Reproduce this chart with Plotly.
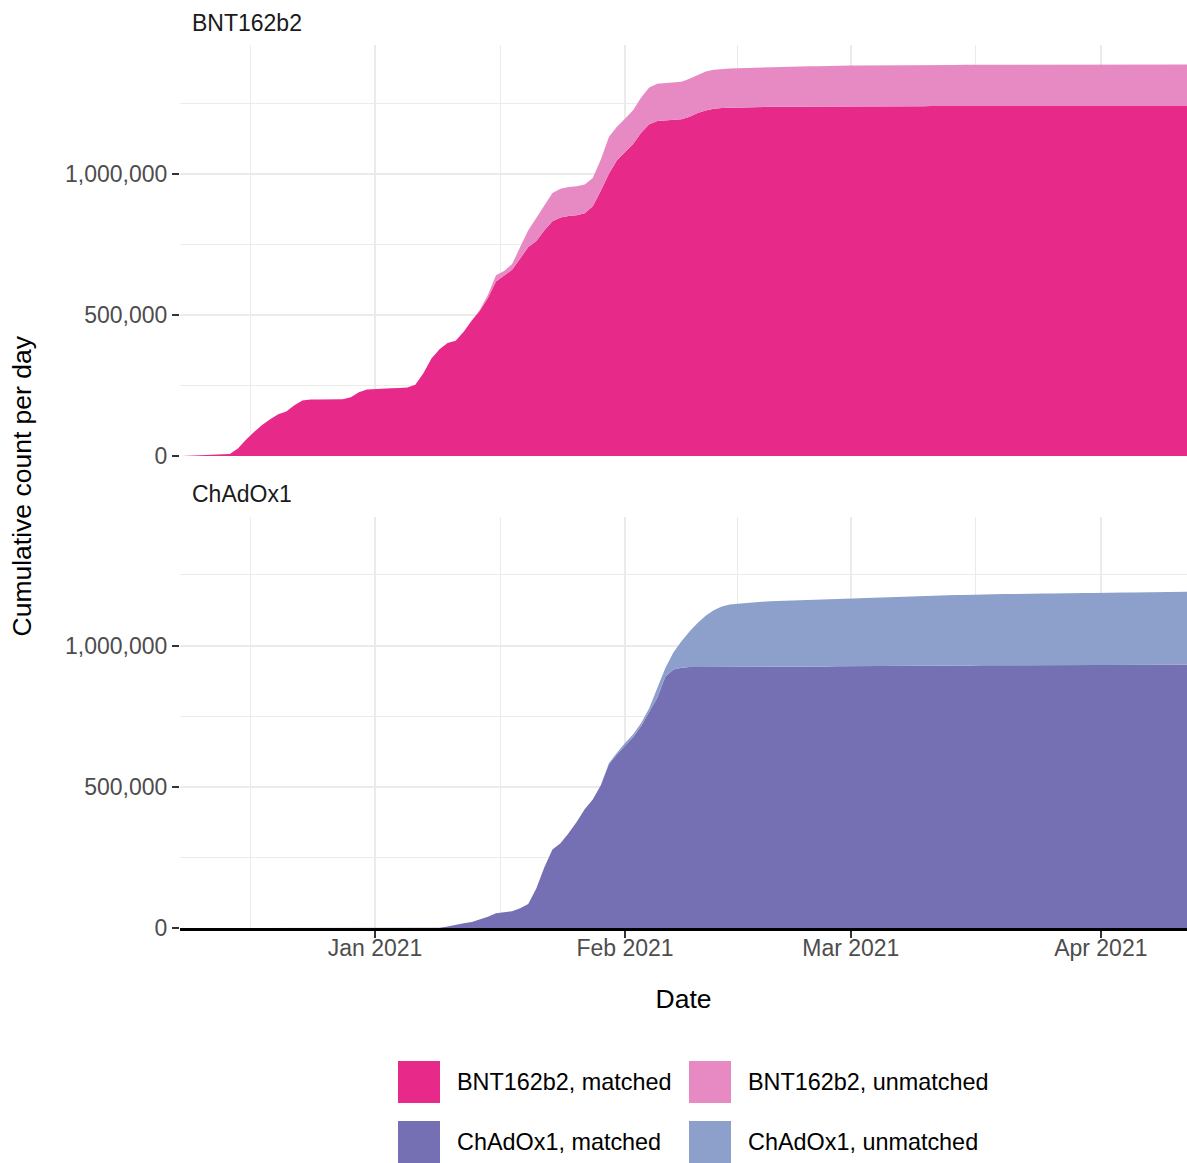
import pandas as pd
import plotly.graph_objects as go

# ---------------------------------------------------------------------------
# Daily cumulative counts (thousands of people), one value per day from
# 8 Dec 2020 to 12 Apr 2021; each row below is one week.
# ---------------------------------------------------------------------------
start_date = "2020-12-08"
n_days = 126

bnt_matched_k = [
    0, 1, 2, 3, 4, 5, 7,
    27, 58, 85, 110, 130, 148, 158,
    180, 197, 200, 200, 200, 200, 201,
    208, 226, 236, 238, 239, 240, 241,
    243, 252, 293, 345, 378, 400, 408,
    440, 480, 515, 560, 618, 638, 660,
    700, 740, 762, 800, 832, 845, 850,
    853, 860, 885, 940, 1000, 1048, 1075,
    1105, 1145, 1175, 1187, 1189, 1191, 1193,
    1202, 1215, 1224, 1230, 1233, 1234, 1235,
    1235, 1236, 1236, 1237, 1237, 1237, 1238,
    1238, 1238, 1238, 1238, 1239, 1239, 1239,
    1239, 1239, 1239, 1239, 1239, 1239, 1239,
    1239, 1239, 1240, 1240, 1240, 1240, 1240,
    1240, 1240, 1240, 1240, 1240, 1240, 1240,
    1240, 1240, 1240, 1240, 1240, 1240, 1240,
    1240, 1240, 1240, 1240, 1240, 1240, 1240,
    1240, 1240, 1240, 1240, 1240, 1240, 1240,
]

bnt_total_k = [
    0, 1, 2, 3, 4, 5, 7,
    27, 58, 85, 110, 130, 148, 158,
    180, 197, 200, 200, 200, 200, 201,
    208, 226, 236, 238, 239, 240, 241,
    243, 252, 293, 345, 378, 400, 408,
    440, 481, 518, 570, 640, 655, 680,
    740, 800, 843, 890, 932, 947, 953,
    956, 962, 985, 1050, 1130, 1166, 1195,
    1225, 1270, 1305, 1319, 1321, 1323, 1326,
    1336, 1350, 1362, 1368, 1371, 1373, 1374,
    1375, 1376, 1377, 1378, 1379, 1379, 1380,
    1381, 1381, 1381, 1382, 1382, 1382, 1383,
    1383, 1383, 1383, 1384, 1384, 1384, 1384,
    1385, 1385, 1385, 1385, 1385, 1385, 1386,
    1386, 1386, 1386, 1386, 1386, 1386, 1386,
    1386, 1386, 1386, 1387, 1387, 1387, 1387,
    1387, 1387, 1387, 1387, 1387, 1387, 1387,
    1387, 1387, 1387, 1387, 1387, 1387, 1387,
]

cha_matched_k = [
    0, 0, 0, 0, 0, 0, 0,
    0, 0, 0, 0, 0, 0, 0,
    0, 0, 0, 0, 0, 0, 0,
    0, 0, 0, 0, 0, 0, 0,
    0, 0, 0, 0, 1, 5, 12,
    17, 21, 30, 40, 52, 55, 59,
    70, 85, 140, 215, 278, 300, 335,
    375, 420, 455, 505, 580, 615, 645,
    675, 715, 765, 815, 890, 915, 921,
    924, 924, 924, 925, 925, 925, 925,
    925, 925, 925, 925, 926, 926, 926,
    926, 926, 926, 926, 927, 927, 927,
    927, 927, 927, 928, 928, 928, 928,
    928, 928, 929, 929, 929, 929, 929,
    929, 930, 930, 930, 930, 930, 930,
    930, 931, 931, 931, 931, 931, 931,
    931, 931, 932, 932, 932, 932, 932,
    932, 932, 932, 932, 932, 932, 932,
]

cha_total_k = [
    0, 0, 0, 0, 0, 0, 0,
    0, 0, 0, 0, 0, 0, 0,
    0, 0, 0, 0, 0, 0, 0,
    0, 0, 0, 0, 0, 0, 0,
    0, 0, 0, 0, 1, 5, 12,
    17, 21, 30, 40, 52, 55, 59,
    70, 85, 140, 215, 278, 300, 335,
    375, 420, 455, 505, 583, 620, 655,
    685, 726, 778, 848, 920, 975, 1015,
    1050, 1080, 1105, 1125, 1138, 1145, 1148,
    1151, 1153, 1155, 1157, 1158, 1160, 1161,
    1162, 1163, 1164, 1165, 1166, 1167, 1168,
    1169, 1170, 1171, 1172, 1173, 1174, 1175,
    1176, 1176, 1177, 1178, 1178, 1179, 1179,
    1180, 1180, 1181, 1181, 1182, 1182, 1183,
    1183, 1184, 1184, 1184, 1185, 1185, 1186,
    1186, 1186, 1187, 1187, 1187, 1188, 1188,
    1188, 1189, 1189, 1189, 1190, 1190, 1190,
]

panel_titles = ["BNT162b2", "ChAdOx1"]
series_names = [
    "BNT162b2, matched", "BNT162b2, unmatched",
    "ChAdOx1, matched", "ChAdOx1, unmatched",
]
series_colors = ["#E7298A", "#E78AC3", "#7570B3", "#8DA0CB"]

month_ticks = ["2021-01-01", "2021-02-01", "2021-03-01", "2021-04-01"]
month_labels = ["Jan 2021", "Feb 2021", "Mar 2021", "Apr 2021"]
mid_month_ticks = ["2020-12-16 12:00", "2021-01-16 12:00",
                   "2021-02-15 00:00", "2021-03-16 12:00"]
count_ticks = [0, 500000, 1000000]
count_labels = ["0", "500,000", "1,000,000"]
count_minor_ticks = [250000, 750000, 1250000]

x_range = ["2020-12-07 19:40", "2021-04-11 16:30"]
y_range = [0, 1456000]

# ---------------------------------------------------------------------------
dates = pd.date_range(start_date, periods=n_days, freq="D")

bnt_matched = [v * 1000 for v in bnt_matched_k]
bnt_unmatched = [(t - m) * 1000 for t, m in zip(bnt_total_k, bnt_matched_k)]
cha_matched = [v * 1000 for v in cha_matched_k]
cha_unmatched = [(t - m) * 1000 for t, m in zip(cha_total_k, cha_matched_k)]

W, H = 1187, 1163
ML, MR, MT, MB = 180, 0, 45, 235
PW, PH = W - ML - MR, H - MT - MB


def px_x(px):
    return (px - ML) / PW


def px_y(py):
    return (H - MB - py) / PH


FONT = "Liberation Sans, Arial, Helvetica, sans-serif"
GRID = "#EBEBEB"
TICK_COL = "#333333"
LABEL_COL = "#4D4D4D"

fig = go.Figure()

panels = [
    ("x", "y", "bnt", [bnt_matched, bnt_unmatched], series_colors[0:2], series_names[0:2]),
    ("x2", "y2", "cha", [cha_matched, cha_unmatched], series_colors[2:4], series_names[2:4]),
]
for xa, ya, group, values, colors, names in panels:
    for vals, col, name in zip(values, colors, names):
        fig.add_trace(go.Scatter(
            x=dates, y=vals, name=name, xaxis=xa, yaxis=ya,
            stackgroup=group, mode="lines",
            line=dict(width=0, color=col), fillcolor=col,
            showlegend=False,
        ))

common_x = dict(
    type="date", range=x_range,
    tickmode="array", tickvals=month_ticks, ticktext=month_labels,
    showgrid=True, gridcolor=GRID, gridwidth=2,
    minor=dict(tickmode="array", tickvals=mid_month_ticks,
               showgrid=True, gridcolor=GRID, gridwidth=1.2),
    zeroline=False,
)
common_y = dict(
    range=y_range,
    tickmode="array", tickvals=count_ticks, ticktext=count_labels,
    ticks="outside", ticklen=7, tickwidth=2, tickcolor=TICK_COL,
    tickfont=dict(size=23, color=LABEL_COL, family=FONT),
    showgrid=True, gridcolor=GRID, gridwidth=2,
    minor=dict(tickmode="array", tickvals=count_minor_ticks,
               showgrid=True, gridcolor=GRID, gridwidth=1.2),
    zeroline=False, showline=False,
)

top_lo = px_y(456)
bot_hi = px_y(516.7)

fig.update_layout(
    width=W, height=H,
    margin=dict(l=ML, r=MR, t=MT, b=MB, pad=0),
    paper_bgcolor="white", plot_bgcolor="white",
    font=dict(family=FONT, color="black"),
    showlegend=False,
    xaxis=dict(common_x, anchor="y", domain=[0, 1], showticklabels=False,
               ticks="", matches="x2"),
    xaxis2=dict(common_x, anchor="y2", domain=[0, 1],
                ticks="outside", ticklen=7, tickwidth=2, tickcolor=TICK_COL,
                ticklabelstandoff=-9,
                tickfont=dict(size=23, color=LABEL_COL, family=FONT),
                showline=True, linecolor="black", linewidth=2.5,
                title=dict(text="Date", font=dict(size=26.5, color="black", family=FONT),
                           standoff=30)),
    yaxis=dict(common_y, anchor="x", domain=[top_lo, 1]),
    yaxis2=dict(common_y, anchor="x2", domain=[0, bot_hi]),
)

annotations = []
# facet strip labels
for title, py in zip(panel_titles, [23, 494]):
    annotations.append(dict(
        text=title, xref="paper", yref="paper", x=px_x(190), y=px_y(py),
        xanchor="left", yanchor="middle", showarrow=False,
        font=dict(size=23, color="#1A1A1A", family=FONT),
    ))
# shared y-axis title
annotations.append(dict(
    text="Cumulative count per day", xref="paper", yref="paper",
    x=px_x(21), y=0.5, xanchor="center", yanchor="middle",
    textangle=-90, showarrow=False,
    font=dict(size=26.5, color="black", family=FONT),
))

# legend: 2 x 2 grid of colour keys
shapes = []
key_cols = [398, 689]
key_rows = [1061, 1121]
key_size = 42
for i, (name, col) in enumerate(zip(series_names, series_colors)):
    kx = key_cols[i % 2]
    ky = key_rows[i // 2]
    shapes.append(dict(
        type="rect", xref="paper", yref="paper",
        x0=px_x(kx), x1=px_x(kx + key_size),
        y0=px_y(ky + key_size), y1=px_y(ky),
        fillcolor=col, line=dict(width=0), layer="above",
    ))
    annotations.append(dict(
        text=name, xref="paper", yref="paper",
        x=px_x(kx + key_size + 15), y=px_y(ky + key_size / 2),
        xanchor="left", yanchor="middle", showarrow=False,
        font=dict(size=23.4, color="black", family=FONT),
    ))

fig.update_layout(annotations=annotations, shapes=shapes)

fig.write_html("out.html")
